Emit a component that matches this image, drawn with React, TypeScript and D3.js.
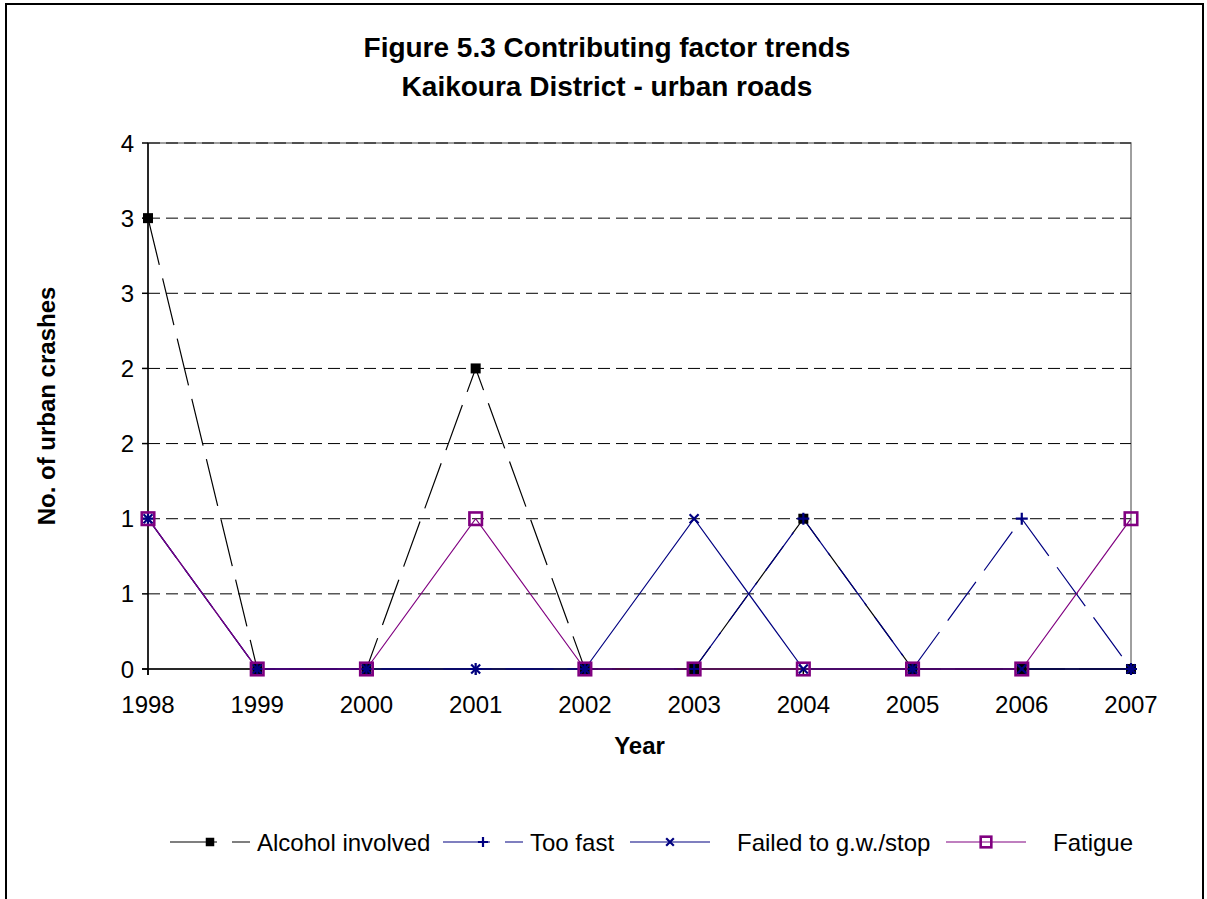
import React from "react";
import * as d3 from "d3";

// Data
const years = ["1998", "1999", "2000", "2001", "2002", "2003", "2004", "2005", "2006", "2007"];
const alcohol = [3, 0, 0, 2, 0, 0, 1, 0, 0, 0];
const tooFast = [1, 0, 0, 0, 0, 0, 1, 0, 1, 0];
const failedToGiveWay = [1, 0, 0, 0, 0, 1, 0, 0, 0, 0];
const fatigue = [1, 0, 0, 1, 0, 0, 0, 0, 0, 1];
const yTicks = [0, 0.5, 1, 1.5, 2, 2.5, 3, 3.5];

const titleLines = ["Figure 5.3 Contributing factor trends", "Kaikoura District - urban roads"];
const xTitle = "Year";
const yTitle = "No. of urban crashes";

type MarkerKind = "square" | "plus" | "cross" | "hollow";

interface Series {
  name: string;
  values: number[];
  color: string;
  dash: string | null;
  marker: MarkerKind;
}

const series: Series[] = [
  { name: "Alcohol involved", values: alcohol, color: "#000000", dash: "48 14", marker: "square" },
  { name: "Too fast", values: tooFast, color: "#000080", dash: "48 14", marker: "plus" },
  { name: "Failed to g.w./stop", values: failedToGiveWay, color: "#000080", dash: null, marker: "cross" },
  { name: "Fatigue", values: fatigue, color: "#800080", dash: null, marker: "hollow" },
];

// Layout
const W = 1207;
const H = 899;
const plot = { left: 148, right: 1131, top: 143, bottom: 669 };
const FONT = "'Liberation Sans', Arial, Helvetica, sans-serif";
// legend: where each sample line starts and where its label starts
const legendLayout = [
  { line: 170, text: 257 },
  { line: 443, text: 530 },
  { line: 630, text: 737 },
  { line: 946, text: 1053 },
];
const legendY = 842;

function Marker({ kind, x, y, color, scale = 1 }: { kind: MarkerKind; x: number; y: number; color: string; scale?: number }) {
  if (kind === "square") {
    const s = 10 * scale;
    return <rect x={x - s / 2} y={y - s / 2} width={s} height={s} fill={color} />;
  }
  if (kind === "hollow") {
    const s = 12.5 * scale;
    return <rect x={x - s / 2} y={y - s / 2} width={s} height={s} fill="none" stroke={color} strokeWidth={2.6} />;
  }
  if (kind === "plus") {
    const r = 6 * scale;
    return (
      <path d={`M${x - r},${y}H${x + r}M${x},${y - r}V${y + r}`} stroke={color} strokeWidth={2.2} fill="none" />
    );
  }
  const r = 4.5 * scale;
  return (
    <path
      d={`M${x - r},${y - r}L${x + r},${y + r}M${x - r},${y + r}L${x + r},${y - r}`}
      stroke={color}
      strokeWidth={2.2}
      fill="none"
    />
  );
}

export default function App() {
  const x = d3.scalePoint<string>().domain(years).range([plot.left, plot.right]).padding(0);
  const y = d3.scaleLinear().domain([0, 3.5]).range([plot.bottom, plot.top]);
  const fmt = (v: number) => String(Math.round(v));

  const line = d3
    .line<number>()
    .x((_, i) => x(years[i]) as number)
    .y((d) => y(d));

  return (
    <svg
      width={W}
      height={H}
      viewBox={`0 0 ${W} ${H}`}
      style={{ position: "absolute", left: 0, top: 0, background: "#fff" }}
      fontFamily={FONT}
    >
      <rect x={0} y={0} width={W} height={H} fill="#fff" />
      {/* chart frame */}
      <rect x={6} y={4} width={1197} height={1000} fill="none" stroke="#000" strokeWidth={2} />

      {/* title */}
      {titleLines.map((t, i) => (
        <text key={t} x={607} y={57 + i * 39} textAnchor="middle" fontSize={28} fontWeight="bold" fill="#000">
          {t}
        </text>
      ))}

      {/* plot area border */}
      <rect
        x={plot.left}
        y={plot.top}
        width={plot.right - plot.left}
        height={plot.bottom - plot.top}
        fill="none"
        stroke="#808080"
        strokeWidth={1.5}
      />

      {/* gridlines */}
      {yTicks.slice(1).map((t) => (
        <line
          key={t}
          x1={plot.left}
          x2={plot.right}
          y1={y(t)}
          y2={y(t)}
          stroke="#000"
          strokeWidth={1}
          strokeDasharray="12 6"
        />
      ))}

      {/* axes */}
      <line x1={plot.left} x2={plot.left} y1={plot.top} y2={plot.bottom + 6} stroke="#000" strokeWidth={1.5} />
      <line x1={plot.left - 6} x2={plot.right} y1={plot.bottom} y2={plot.bottom} stroke="#000" strokeWidth={1.5} />
      {yTicks.map((t) => (
        <g key={t}>
          <line x1={plot.left - 6} x2={plot.left} y1={y(t)} y2={y(t)} stroke="#000" strokeWidth={1.5} />
          <text x={plot.left - 14} y={y(t) + 8.5} textAnchor="end" fontSize={24} fill="#000">
            {fmt(t)}
          </text>
        </g>
      ))}
      {years.map((yr) => (
        <g key={yr}>
          <line x1={x(yr)} x2={x(yr)} y1={plot.bottom} y2={plot.bottom + 6} stroke="#000" strokeWidth={1.5} />
          <text x={x(yr)} y={plot.bottom + 44} textAnchor="middle" fontSize={24} fill="#000">
            {yr}
          </text>
        </g>
      ))}

      {/* axis titles */}
      <text x={(plot.left + plot.right) / 2} y={754} textAnchor="middle" fontSize={24} fontWeight="bold" fill="#000">
        {xTitle}
      </text>
      <text
        transform={`translate(55, ${(plot.top + plot.bottom) / 2}) rotate(-90)`}
        textAnchor="middle"
        fontSize={24}
        fontWeight="bold"
        fill="#000"
      >
        {yTitle}
      </text>

      {/* series lines */}
      {series.map((s) => (
        <path
          key={s.name}
          d={line(s.values) ?? ""}
          fill="none"
          stroke={s.color}
          strokeWidth={1.2}
          strokeDasharray={s.dash ?? undefined}
        />
      ))}

      {/* markers */}
      {series.map((s) =>
        s.values.map((v, i) => (
          <Marker key={`${s.name}-${i}`} kind={s.marker} x={x(years[i]) as number} y={y(v)} color={s.color} />
        ))
      )}

      {/* legend */}
      {series.map((s, i) => {
        const l = legendLayout[i];
        return (
          <g key={s.name}>
            <line
              x1={l.line}
              x2={l.line + 80}
              y1={legendY}
              y2={legendY}
              stroke={s.color}
              strokeWidth={1.2}
              strokeDasharray={s.dash ? "47 15" : undefined}
            />
            <Marker kind={s.marker} x={l.line + 40} y={legendY} color={s.color} scale={0.85} />
            <text x={l.text} y={legendY + 8.5} fontSize={24} fill="#000">
              {s.name}
            </text>
          </g>
        );
      })}
    </svg>
  );
}
